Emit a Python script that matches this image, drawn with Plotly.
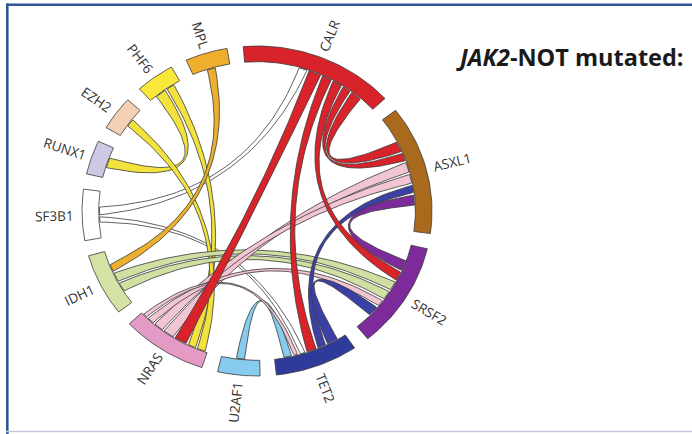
import numpy as np
import plotly.graph_objects as go

# Genes around the ring, clockwise from the top, with the arc extent of each (degrees)
genes = ["CALR", "ASXL1", "SRSF2", "TET2", "U2AF1", "NRAS",
         "IDH1", "SF3B1", "RUNX1", "EZH2", "PHF6", "MPL"]
gene_extent = [51.5, 45.5, 37.5, 27.5, 14.0, 28.5, 22.0, 18.0, 12.0, 12.0, 13.0, 14.0]

# Co-mutation links: gene, partner gene, band width (degrees)
link_source = ["CALR", "CALR", "CALR", "CALR", "CALR",
               "SF3B1", "SF3B1",
               "NRAS", "NRAS", "NRAS", "NRAS",
               "IDH1", "IDH1",
               "TET2", "TET2",
               "SRSF2",
               "U2AF1",
               "MPL",
               "PHF6", "PHF6",
               "EZH2"]
link_target = ["ASXL1", "ASXL1", "SRSF2", "TET2", "NRAS",
               "CALR", "TET2",
               "ASXL1", "ASXL1", "SRSF2", "TET2",
               "SRSF2", "SRSF2",
               "ASXL1", "SRSF2",
               "ASXL1",
               "TET2",
               "IDH1",
               "RUNX1", "NRAS",
               "NRAS"]
link_value = [4.0, 3.0, 3.5, 3.5, 4.5,
              3.0, 2.0,
              4.0, 3.5, 2.5, 1.5,
              3.5, 3.5,
              3.0, 4.0,
              4.0,
              3.0,
              3.0,
              4.0, 3.0,
              3.0]

title_text = "<b><i>JAK2</i>-NOT mutated:</b>"

# ---- styling -------------------------------------------------------------
gene_color = {
    "CALR": "#D8232A", "ASXL1": "#A96A1E", "SRSF2": "#7D2B9B", "TET2": "#2F3B9B",
    "U2AF1": "#86CCEF", "NRAS": "#E39BC6", "IDH1": "#D4E2A5", "SF3B1": "#FFFFFF",
    "RUNX1": "#CDC9E5", "EZH2": "#F4D0B4", "PHF6": "#F7E83A", "MPL": "#EEAF2F",
}
ribbon_color = dict(gene_color)
ribbon_color.update({"NRAS": "#F2C5D3", "EZH2": "#F3E23C", "PHF6": "#F3E23C",
                     "IDH1": "#D0E0A2", "MPL": "#ECB02E", "TET2": "#3A40A4"})
ribbon_layer = ["SF3B1", "PHF6", "EZH2", "MPL", "IDH1", "U2AF1",
                "NRAS", "TET2", "SRSF2", "CALR"]
# where the bundle of link ends sits inside an arc (degrees from arc centre)
bundle_shift = {"CALR": -7.0}
# arcs whose link ends are stacked in the opposite direction
reverse_stack = {"NRAS"}
EDGE = "#3A3A3A"
START_ANGLE = 94.5      # counter-clockwise end of the first gene
R_OUT, R_IN = 1.0, 0.905
R_RIB = 0.9
RIB_GAP = 0.8
BEZ_PULL = 0.22         # control point distance from the centre
# pixel geometry of the ring inside the 692x434 canvas
CX_PX, CY_PX, RX_PX, RY_PX = 257.0, 211.0, 175.0, 165.0
W, H = 692, 434

# ---- layout of the ring --------------------------------------------------
seg_gap = (360.0 - sum(gene_extent)) / len(genes)
seg_span, seg_center = {}, {}
a = START_ANGLE
for g, ext in zip(genes, gene_extent):
    seg_span[g] = (a - ext, a)
    seg_center[g] = a - ext / 2
    a -= ext + seg_gap

# place every link end inside its gene arc, ordered to limit crossings
ends = {g: [] for g in genes}
for i, (s, t, v) in enumerate(zip(link_source, link_target, link_value)):
    ends[s].append((i, t, v, True))
    ends[t].append((i, s, v, False))

end_span = {}
for g in genes:
    c = seg_center[g]
    items = sorted(ends[g], key=lambda e: ((c - seg_center[e[1]]) % 360,
                                           e[0] if e[3] else -e[0]))
    if g in reverse_stack:
        items = items[::-1]
    total = sum(e[2] for e in items) + RIB_GAP * max(len(items) - 1, 0)
    pos = c + bundle_shift.get(g, 0.0) - total / 2
    for e in items:
        end_span[(e[0], e[3])] = (pos, pos + e[2])
        pos += e[2] + RIB_GAP


def arc(r, a0, a1, n=24):
    t = np.radians(np.linspace(a0, a1, n))
    return list(r * np.cos(t)), list(r * np.sin(t))


def pt(r, deg):
    t = np.radians(deg)
    return np.array([r * np.cos(t), r * np.sin(t)])


def bez(p0, c, p2, n=50):
    t = np.linspace(0, 1, n)[:, None]
    p = (1 - t) ** 2 * p0 + 2 * (1 - t) * t * c + t ** 2 * p2
    return list(p[:, 0]), list(p[:, 1])


def control(a_deg, b_deg):
    # pull the curve slightly toward the shorter side between the two ends
    diff = ((b_deg - a_deg + 180) % 360) - 180
    mid = a_deg + diff / 2
    k = BEZ_PULL * (1 - abs(diff) / 180)
    return pt(k, mid)


fig = go.Figure()

# ribbons
order = sorted(range(len(link_value)), key=lambda i: ribbon_layer.index(link_source[i]))
for i in order:
    a1, a2 = end_span[(i, True)]
    b1, b2 = end_span[(i, False)]
    ctrl = control((a1 + a2) / 2, (b1 + b2) / 2)
    xs, ys = [], []
    for part in (arc(R_RIB, a1, a2),
                 bez(pt(R_RIB, a2), ctrl, pt(R_RIB, b1)),
                 arc(R_RIB, b1, b2),
                 bez(pt(R_RIB, b2), ctrl, pt(R_RIB, a1))):
        xs += part[0]
        ys += part[1]
    fig.add_trace(go.Scatter(
        x=xs, y=ys, mode="lines", fill="toself",
        fillcolor=ribbon_color[link_source[i]],
        line=dict(color=EDGE, width=0.8),
        hoverinfo="skip", showlegend=False))

# gene arcs
for g in genes:
    lo, hi = seg_span[g]
    ox, oy = arc(R_OUT, hi, lo, 40)
    ix, iy = arc(R_IN, lo, hi, 40)
    fig.add_trace(go.Scatter(
        x=ox + ix + [ox[0]], y=oy + iy + [oy[0]], mode="lines", fill="toself",
        fillcolor=gene_color[g], line=dict(color=EDGE, width=0.8),
        hoverinfo="skip", showlegend=False))

# radial gene labels
FONT_PX = 13.5
for g in genes:
    th = np.radians(seg_center[g])
    d = np.array([RX_PX * np.cos(th), -RY_PX * np.sin(th)])
    d = d / np.linalg.norm(d)
    base = np.array([CX_PX + 1.03 * RX_PX * np.cos(th), CY_PX - 1.03 * RY_PX * np.sin(th)])
    half = len(g) * FONT_PX * 0.6 / 2
    cpx = base + d * (half + 2)
    if np.cos(th) > 1e-6:
        ang = np.degrees(np.arctan2(d[1], d[0]))
    else:
        ang = np.degrees(np.arctan2(-d[1], -d[0]))
    fig.add_annotation(
        x=(cpx[0] - CX_PX) / RX_PX, y=(CY_PX - cpx[1]) / RY_PX,
        text=g, showarrow=False, textangle=ang,
        xanchor="center", yanchor="middle",
        font=dict(family="Open Sans", size=FONT_PX, color="#333333"))

fig.add_annotation(
    x=454 / W, y=1 - 57 / H, xref="paper", yref="paper",
    xanchor="left", yanchor="middle", showarrow=False, text=title_text,
    font=dict(family="Open Sans", size=23.5, color="#1A1A1A"))

# page frame
frame = "#2F5597"
fig.add_shape(type="line", xref="paper", yref="paper",
              x0=6.5 / W, x1=1, y0=1 - 4.7 / H, y1=1 - 4.7 / H,
              line=dict(color=frame, width=2.6))
fig.add_shape(type="line", xref="paper", yref="paper",
              x0=7.3 / W, x1=7.3 / W, y0=0, y1=1 - 3.5 / H,
              line=dict(color=frame, width=2.6))
fig.add_shape(type="line", xref="paper", yref="paper",
              x0=6 / W, x1=1, y0=1 - 431.5 / H, y1=1 - 431.5 / H,
              line=dict(color="#C3CADC", width=1.5))

fig.update_layout(
    width=W, height=H, margin=dict(l=0, r=0, t=0, b=0),
    paper_bgcolor="white", plot_bgcolor="white",
    xaxis=dict(range=[-CX_PX / RX_PX, (W - CX_PX) / RX_PX], visible=False, fixedrange=True),
    yaxis=dict(range=[(CY_PX - H) / RY_PX, CY_PX / RY_PX], visible=False, fixedrange=True),
)

fig.write_html("out.html")
